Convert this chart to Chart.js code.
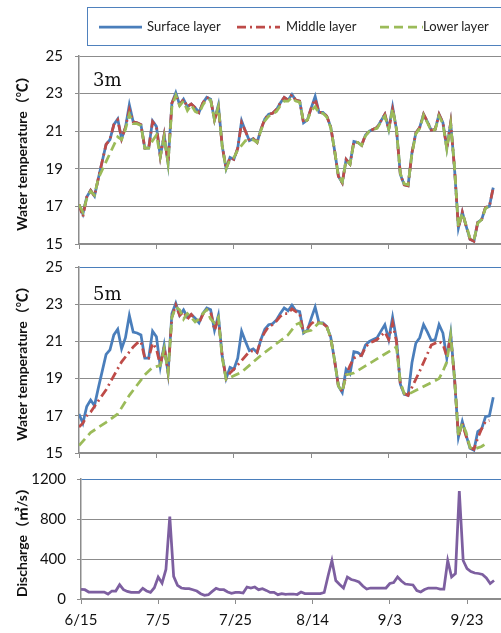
<!DOCTYPE html>
<html lang="en">
<head>
<meta charset="UTF-8">
<title>Water temperature and discharge</title>
<script src="https://cdn.jsdelivr.net/npm/chart.js"></script>
<style>
  body { margin: 0; background: #fff; }
  #wrap { position: relative; width: 501px; height: 633px; overflow: hidden; font-family: Lato, sans-serif; }
  #wrap canvas { position: absolute; left: 0; }
  .legend { position: absolute; left: 87px; top: 7px; width: 440px; height: 37px; border: 1px solid #4f81bd; }
  .legend svg { position: absolute; top: 17px; }
  .legend span { position: absolute; top: 10px; font-size: 13px; line-height: 16px; color: #222; white-space: nowrap; }
  .depth { position: absolute; left: 93px; font-family: "DejaVu Serif", serif; font-size: 18px; line-height: 18px; color: #111; }
</style>
</head>
<body>
<div id="wrap">
  <canvas id="c1" width="501" height="230" style="top:35px"></canvas>
  <canvas id="c2" width="501" height="228" style="top:246px"></canvas>
  <canvas id="c3" width="501" height="174" style="top:459px"></canvas>
  <div class="legend">
    <svg style="left:11px" width="43" height="4"><line x1="0" y1="2" x2="43" y2="2" stroke="#4a7ebb" stroke-width="2.75"/></svg>
    <span style="left:59px">Surface layer</span>
    <svg style="left:149px" width="43" height="4"><line x1="0" y1="2" x2="43" y2="2" stroke="#be4b48" stroke-width="2.75" stroke-dasharray="9 4 2 4"/></svg>
    <span style="left:198px">Middle layer</span>
    <svg style="left:292px" width="43" height="4"><line x1="0" y1="2" x2="43" y2="2" stroke="#9bbb59" stroke-width="2.75" stroke-dasharray="9 5"/></svg>
    <span style="left:335px">Lower layer</span>
  </div>
  <div class="depth" style="top:71px">3m</div>
  <div class="depth" style="top:285px">5m</div>
</div>

<script>
// x axis: day index counted from 6/15
const tickLabels = ['6/15', '7/5', '7/25', '8/14', '9/3', '9/23'];

// surface layer (same curve at 3m and 5m)
const surface = [
  17.1, 16.6, 17.5, 17.85, 17.55, 18.5, 19.4, 20.3, 20.55, 21.35,
  21.65, 20.6, 21.2, 22.4, 21.5, 21.45, 21.35, 20.1, 20.1, 21.55,
  21.25, 19.65, 20.8, 19.3, 22.5, 23.05, 22.4, 22.7, 22.3, 22.45,
  22.25, 22.0, 22.5, 22.8, 22.7, 21.6, 22.4, 20.2, 19.0, 19.6,
  19.5, 20.1, 21.55, 21.0, 20.5, 20.6, 20.4, 21.1, 21.65, 21.9,
  21.95, 22.15, 22.5, 22.8, 22.65, 22.95, 22.65, 22.6, 21.45, 21.6,
  22.25, 22.85, 22.0, 22.0, 21.8, 21.25, 20.0, 18.6, 18.25, 19.5,
  19.25, 20.45, 20.4, 20.25, 20.8, 21.0, 21.1, 21.2, 21.55, 21.9,
  21.1, 22.3, 21.1, 18.7, 18.15, 18.1, 19.85, 20.9, 21.2, 21.9,
  21.5, 21.05, 21.1, 21.9, 21.45, 20.1, 21.45, 19.0, 15.85, 16.7,
  15.95, 15.25, 15.15, 16.15, 16.3, 16.95, 17.0, 18.0
];

const middle3 = [
  17.1, 16.45, 17.5, 17.85, 17.55, 18.5, 19.4, 20.3, 20.55, 21.35,
  21.6, 20.6, 21.2, 22.15, 21.5, 21.45, 21.35, 20.1, 20.1, 21.5,
  21.25, 19.65, 20.8, 19.3, 22.5, 22.95, 22.4, 22.7, 22.3, 22.45,
  22.25, 22.0, 22.5, 22.8, 22.7, 21.6, 22.25, 20.2, 19.0, 19.6,
  19.5, 20.1, 21.45, 21.0, 20.5, 20.6, 20.4, 21.1, 21.65, 21.9,
  21.95, 22.15, 22.5, 22.8, 22.65, 22.95, 22.65, 22.6, 21.45, 21.6,
  22.25, 22.7, 22.0, 22.0, 21.8, 21.25, 20.0, 18.6, 18.25, 19.5,
  19.25, 20.45, 20.4, 20.25, 20.8, 21.0, 21.1, 21.2, 21.55, 21.9,
  21.1, 22.15, 21.1, 18.7, 18.15, 18.1, 19.85, 20.9, 21.2, 21.9,
  21.5, 21.05, 21.1, 21.9, 21.45, 20.1, 21.45, 19.0, 15.85, 16.7,
  15.95, 15.25, 15.15, 16.15, 16.3, 16.95, 17.0, 18.0
];

const lower3 = [
  17.1, 16.7, 17.4, 17.8, 17.6, 18.5, null, null, null, null,
  20.7, 20.55, 21.1, 21.9, 21.4, 21.4, 21.3, 20.1, 20.1, 20.5,
  20.8, 19.65, 20.7, 19.3, 22.3, 22.9, 22.35, 22.6, 22.1, 22.4,
  22.05, 21.95, 22.4, 22.7, 22.65, 21.6, 22.3, 20.2, 19.0, 19.5,
  19.6, 20.0, null, 20.5, 20.5, 20.55, 20.4, 21.05, 21.55, 21.8,
  21.9, 22.05, 22.35, 22.6, 22.6, 22.8, 22.6, 22.55, 21.5, 21.6,
  22.1, 22.3, 21.95, 21.95, 21.75, 21.2, 20.0, 18.6, 18.3, 19.45,
  19.25, 20.4, 20.4, 20.25, 20.75, 21.0, 21.1, 21.15, 21.5, 21.8,
  21.1, 22.2, 21.1, 18.75, 18.2, 18.15, 19.8, 20.85, 21.15, 21.85,
  21.45, 21.0, 21.1, 21.8, 21.4, 20.05, 21.35, 19.1, 15.9, 16.65,
  16.0, 15.3, 15.2, 16.1, 16.3, 16.9, 17.0, null
];

const middle5 = [
  16.4, 16.6, 17.0, 17.2, null, null, null, 18.4, null, null,
  null, 19.9, null, null, 20.7, 20.9, 21.0, 20.1, 20.1, 20.9,
  20.6, 19.7, 20.7, 19.35, 22.3, 22.95, 22.4, 22.6, 22.2, 22.45,
  22.2, 22.0, 22.45, 22.7, 22.6, 21.6, 22.2, 20.2, 19.0, 19.3,
  19.5, null, null, null, 20.45, 20.5, 20.4, 21.1, 21.5, 21.8,
  21.9, 22.1, 22.35, 22.5, 22.5, 22.75, 22.6, 22.5, 21.45, 21.7,
  21.95, 22.1, 22.0, 21.95, 21.8, 21.2, 20.0, 18.6, 18.3, 19.2,
  19.7, 20.1, 20.2, 20.25, 20.7, 20.9, 21.0, 21.1, 21.3, 21.5,
  21.1, 22.0, 21.0, 18.7, 18.2, 18.1, null, null, 19.4, null,
  null, 20.8, null, 21.0, 20.85, 20.2, 21.3, 19.0, 15.9, 16.6,
  15.9, 15.3, 15.2, 15.8, 16.3, 16.7, 16.75, null
];

const lower5 = [
  15.4, null, null, 16.1, null, null, null, 16.65, null, null,
  17.1, null, null, 18.1, null, null, null, 19.2, null, 19.6,
  null, 19.7, 20.6, 19.35, 22.3, 22.85, 22.7, 22.2, 22.5, 22.3,
  22.05, 22.2, 22.5, 22.7, 22.2, 22.0, 22.3, 20.1, 18.95, 19.05,
  null, null, 19.35, null, null, null, null, 20.25, null, null,
  null, null, null, null, 21.35, null, 21.9, 22.0, 21.5, null,
  21.6, null, 22.0, 21.95, 21.8, 21.2, 20.0, 18.6, 18.3, 19.2,
  null, 19.3, null, null, null, null, null, null, null, null,
  null, null, 20.7, 18.8, 18.2, 18.15, null, null, null, null,
  null, null, null, 19.0, 19.4, 19.9, 21.3, 19.0, 15.9, 16.6,
  16.1, 15.3, 15.2, null, 15.35, 15.5, null, null
];

// discharge (m3/s)
const discharge = [
  96, 93, 70, 70, 70, 70, 70, 50, 80, 80,
  143, 93, 76, 66, 66, 66, 106, 80, 66, 113,
  219, 159, 295, 823, 226, 136, 110, 103, 103, 93,
  80, 53, 37, 43, 76, 106, 93, 93, 70, 56,
  66, 66, 60, 120, 110, 120, 93, 103, 86, 66,
  66, 43, 53, 46, 50, 50, 45, 70, 55, 55,
  55, 55, 55, 65, 230, 385, 185, 145, 110, 220,
  195, 185, 170, 130, 100, 110, 110, 110, 110, 110,
  155, 165, 220, 180, 150, 145, 140, 85, 70, 95,
  110, 110, 110, 100, 100, 385, 220, 255, 1080, 385,
  305, 275, 260, 255, 245, 210, 155, 185
];

const BLUE = '#4a7ebb', RED = '#be4b48', GREEN = '#9bbb59', PURPLE = '#7d5fa0';
const GRID = '#8c8c8c';

function pts(arr) {
  return arr.map((v, i) => ({ x: i, y: v }));
}

function line(label, arr, color, dash, order) {
  return {
    label: label,
    data: pts(arr),
    borderColor: color,
    borderWidth: 2.75,
    borderDash: dash,
    pointRadius: 0,
    tension: 0,
    spanGaps: true,
    order: order
  };
}

// the y tick labels add (half label height + tick padding) above and below the plot,
// so each canvas starts that much above its plot area
function makePanel(id, datasets, cfg) {
  new Chart(document.getElementById(id), {
    type: 'line',
    data: { datasets: datasets },
    options: {
      responsive: false,
      animation: false,
      devicePixelRatio: 1,
      layout: { padding: 0 },
      plugins: { legend: { display: false }, tooltip: { enabled: false } },
      scales: {
        x: {
          type: 'linear',
          min: 0,
          max: cfg.xMax,
          afterFit: s => { s.height = cfg.xHeight; },
          ticks: {
            display: cfg.xLabels,
            stepSize: 20,
            includeBounds: false,
            maxRotation: 0,
            padding: 7,
            color: '#111',
            font: { family: 'Lato', size: 15 },
            callback: v => tickLabels[v / 20]
          },
          grid: { drawOnChartArea: false, drawTicks: true, tickLength: 5, color: GRID },
          border: { color: GRID, width: 1.5 }
        },
        y: {
          min: cfg.yMin,
          max: cfg.yMax,
          afterFit: s => { s.width = cfg.yWidth; },
          ticks: {
            stepSize: cfg.yStep,
            padding: cfg.yPad,
            color: '#111',
            font: { family: 'Lato', size: 15 },
            callback: v => String(v)
          },
          grid: {
            color: c => (cfg.blueTop && c.tick && c.tick.value === cfg.yMax) ? BLUE : GRID,
            tickColor: GRID,
            tickLength: 4,
            lineWidth: 1
          },
          border: { color: GRID, width: 1.5 },
          title: {
            display: true,
            text: cfg.title,
            color: '#111',
            font: { family: 'Lato, "Noto Sans CJK JP", sans-serif', size: 14, weight: 'bold' },
            padding: { top: 14, bottom: 0 }
          }
        }
      }
    }
  });
}

makePanel('c1', [
  line('Surface layer', surface, BLUE, [], 2),
  line('Middle layer', middle3, RED, [9, 4, 2, 4], 1),
  line('Lower layer', lower3, GREEN, [9, 5], 0)
], { xMax: 109, xHeight: 12, xLabels: false, yMin: 15, yMax: 25, yStep: 2, yWidth: 79, yPad: 12,
     blueTop: false, title: 'Water temperature（℃）' });

makePanel('c2', [
  line('Surface layer', surface, BLUE, [], 2),
  line('Middle layer', middle5, RED, [9, 4, 2, 4], 1),
  line('Lower layer', lower5, GREEN, [9, 5], 0)
], { xMax: 109, xHeight: 12, xLabels: false, yMin: 15, yMax: 25, yStep: 2, yWidth: 79, yPad: 12,
     blueTop: true, title: 'Water temperature（℃）' });

makePanel('c3', [
  line('Discharge', discharge, PURPLE, [], 0)
], { xMax: 108.8, xHeight: 34, xLabels: true, yMin: 0, yMax: 1200, yStep: 400, yWidth: 81, yPad: 11,
     blueTop: true, title: 'Discharge（㎥/s）' });
</script>
</body>
</html>
